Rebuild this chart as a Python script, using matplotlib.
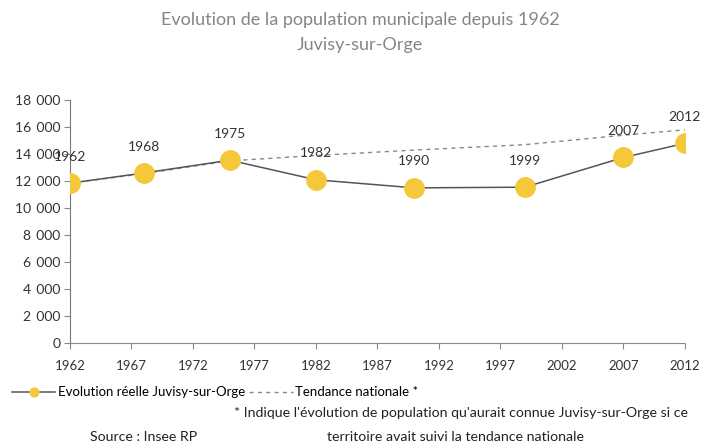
import numpy as np
import matplotlib
matplotlib.use("Agg")
import matplotlib.pyplot as plt
from matplotlib.ticker import FuncFormatter

plt.rcParams['font.family'] = ['Lato', 'DejaVu Sans']

# values
years = [1962, 1968, 1975, 1982, 1990, 1999, 2007, 2012]
pop_reelle = [11850, 12600, 13550, 12100, 11500, 11550, 13750, 14800]
pop_tendance = [11850, 12550, 13500, 13900, 14300, 14700, 15400, 15800]
xticks = list(range(1962, 2013, 5))
yticks = list(range(0, 18001, 2000))

gray = '#555555'
yellow = '#F5C83C'

fig = plt.figure(figsize=(7.06, 4.45), dpi=100)
ax = fig.add_axes([0.099, 0.229, 0.871, 0.546])

ax.plot(years, pop_tendance, color='#888888', lw=1, ls=(0, (3, 3)),
        label='Tendance nationale *', zorder=2)
ax.plot(years, pop_reelle, color=gray, lw=1.1, marker='o', ms=14,
        mfc=yellow, mec=yellow, label='Evolution réelle Juvisy-sur-Orge', zorder=3)

for x, y in zip(years, pop_reelle):
    ax.annotate(str(x), (x, y), xytext=(0, 19), textcoords='offset points',
                ha='center', va='center', fontsize=10, color='#333333')

ax.set_xlim(1962, 2012)
ax.set_ylim(0, 18000)
ax.set_xticks(xticks)
ax.set_yticks(yticks)
ax.yaxis.set_major_formatter(FuncFormatter(lambda v, p: f"{int(v):,}".replace(',', '\u2009 ')))
ax.tick_params(axis='both', labelsize=9.5, colors='#333333', length=4, width=0.8)
ax.tick_params(axis='y', labelsize=10, color='#888888', pad=3)
ax.tick_params(axis='x', pad=8, color='#888888')

for s in ['top', 'right']:
    ax.spines[s].set_visible(False)
ax.spines['left'].set_color('#777777')
ax.spines['bottom'].set_color('#888888')
ax.spines['bottom'].set_linestyle((0, (1, 1)))

fig.text(0.51, 0.955, 'Evolution de la population municipale depuis 1962',
         ha='center', va='center', fontsize=13, color='#858585')
fig.text(0.51, 0.898, 'Juvisy-sur-Orge', ha='center', va='center',
         fontsize=13, color='#858585')

h, l = ax.get_legend_handles_labels()
fig.legend(h[::-1], l[::-1], loc='center left', bbox_to_anchor=(0.0, 0.118),
           ncol=2, frameon=False, fontsize=9.5, handlelength=3.3,
           handletextpad=0.2, columnspacing=0.3, markerscale=0.45)

fig.text(0.653, 0.073, "* Indique l'évolution de population qu'aurait connue Juvisy-sur-Orge si ce",
         ha='center', va='center', fontsize=10.2, color='#222222')
fig.text(0.645, 0.018, 'territoire avait suivi la tendance nationale',
         ha='center', va='center', fontsize=10.2, color='#222222')
fig.text(0.204, 0.018, 'Source : Insee RP', ha='center', va='center',
         fontsize=10.2, color='#222222')

fig.savefig('out.png', dpi=100)
